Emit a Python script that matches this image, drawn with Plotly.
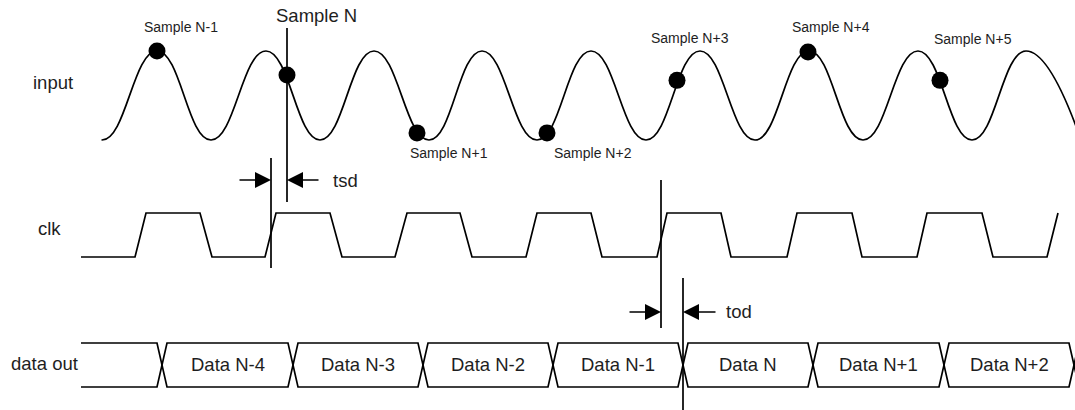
import plotly.graph_objects as go

# ------------------------------------------------------------------ data
# input waveform: times of successive peaks/troughs and their level (0 = low, 1 = high)
input_t = [47, 102, 157, 211, 266, 320, 374, 429, 482, 537, 591, 646, 700, 755, 809, 863, 918, 972, 1026, 1081]
input_level = [1, 0, 1, 0, 1, 0, 1, 0, 1, 0, 1, 0, 1, 0, 1, 0, 1, 0, 1, 0]
input_start = 102  # the waveform is drawn from here on

# samples taken on the input
sample_names = ["Sample N-1", "Sample N", "Sample N+1", "Sample N+2", "Sample N+3", "Sample N+4", "Sample N+5"]
sample_t = [157, 287, 417, 547, 677, 808, 940]
sample_level = [1.0, 0.73, 0.08, 0.08, 0.67, 0.99, 0.67]

# clock waveform corner points
clk_t = [81, 135, 146, 200, 212, 265, 276, 330, 342, 395, 407, 460, 472, 526, 537, 591, 602,
         657, 667, 721, 731, 787, 797, 852, 862, 917, 927, 982, 993, 1047, 1058]
clk_level = [0, 0, 1, 1, 0, 0, 1, 1, 0, 0, 1, 1, 0, 0, 1, 1, 0,
             0, 1, 1, 0, 0, 1, 1, 0, 0, 1, 1, 0, 0, 1]

# data out bus
bus_start = 81
bus_transitions = [162, 293, 423, 553, 683, 813, 944, 1074]
bus_labels = ["Data N-4", "Data N-3", "Data N-2", "Data N-1", "Data N", "Data N+1", "Data N+2"]

# timing markers
tsd_clk_edge, tsd_sample = 271, 287
tod_clk_edge, tod_data_edge = 661, 683

row_names = ["input", "clk", "data out"]

# ------------------------------------------------------------------ style / layout
W, H = 1075, 410
FONT = "Arial, 'Liberation Sans', sans-serif"
TXT = "#1e1e1e"
LW = 1.7
IN_HI, IN_LO = 51, 140
CLK_HI, CLK_LO = 213, 257
BUS_TOP, BUS_BOT = 343, 387
XW = 5  # half width of bus crossing


def lv(level, hi, lo):
    return [lo - v * (lo - hi) for v in level]


fig = go.Figure()

# input wave
fig.add_trace(go.Scatter(x=input_t, y=lv(input_level, IN_HI, IN_LO), mode="lines",
                         line=dict(color="black", width=LW, shape="spline", smoothing=1.3),
                         hoverinfo="skip"))
# sample dots
fig.add_trace(go.Scatter(x=sample_t, y=lv(sample_level, IN_HI, IN_LO), mode="markers",
                         marker=dict(color="black", size=17), hoverinfo="skip"))
# clock
fig.add_trace(go.Scatter(x=clk_t, y=lv(clk_level, CLK_HI, CLK_LO), mode="lines",
                         line=dict(color="black", width=LW), hoverinfo="skip"))

# bus: two crossing polylines
for start in (BUS_TOP, BUS_BOT):
    xs, ys = [bus_start], [start]
    cur = start
    for c in bus_transitions:
        other = BUS_BOT if cur == BUS_TOP else BUS_TOP
        xs += [c - XW, c + XW]
        ys += [cur, other]
        cur = other
    fig.add_trace(go.Scatter(x=xs, y=ys, mode="lines", line=dict(color="black", width=LW),
                             hoverinfo="skip"))

anns = []
# bus labels
for i, name in enumerate(bus_labels):
    xc = (bus_transitions[i] + bus_transitions[i + 1]) / 2
    anns.append(dict(x=xc, y=(BUS_TOP + BUS_BOT) / 2 - 1, text=name, showarrow=False,
                     font=dict(size=18.5, family=FONT, color=TXT)))

# sample labels
sample_label_pos = [(181, 27, 14), (316, 15, 18.5), (449, 153, 14), (593, 153, 14),
                    (690, 38, 14), (831, 27, 14), (973, 39, 14)]
for name, (lx, ly, fs) in zip(sample_names, sample_label_pos):
    anns.append(dict(x=lx, y=ly, text=name, showarrow=False,
                     font=dict(size=fs, family=FONT, color=TXT)))

# row labels
row_pos = [(53, 82), (49, 228), (44, 363)]
for name, (lx, ly) in zip(row_names, row_pos):
    anns.append(dict(x=lx, y=ly, text=name, showarrow=False,
                     font=dict(size=18.5, family=FONT, color=TXT)))


# timing arrows
def arrow(tip, tail, y):
    return dict(x=tip, y=y, ax=tail, ay=y, axref="x", ayref="y", xref="x", yref="y",
                text="", showarrow=True, arrowhead=2, arrowsize=2, arrowwidth=1.6,
                arrowcolor="black", standoff=0, startstandoff=0)


anns += [arrow(tsd_clk_edge, 238, 180), arrow(tsd_sample, 320, 180),
         arrow(tod_clk_edge, 628, 312), arrow(tod_data_edge, 717, 312)]
anns.append(dict(x=345, y=180, text="tsd", showarrow=False, font=dict(size=18.5, family=FONT, color=TXT)))
anns.append(dict(x=739, y=311, text="tod", showarrow=False, font=dict(size=18.5, family=FONT, color=TXT)))

shapes = [
    # mask the waveform before its start
    dict(type="rect", x0=0, x1=input_start - 0.5, y0=IN_HI - 10, y1=IN_LO + 10, xref="x", yref="y",
         fillcolor="white", line=dict(width=0), layer="above"),
]
for x0, y0, y1 in [(tsd_sample, 28, 202), (tsd_clk_edge, 158, 268),
                   (tod_clk_edge, 180, 328), (tod_data_edge, 278, 412)]:
    shapes.append(dict(type="line", x0=x0, x1=x0, y0=y0, y1=y1, xref="x", yref="y",
                       line=dict(color="black", width=LW)))

fig.update_layout(
    width=W, height=H, margin=dict(l=0, r=0, t=0, b=0),
    paper_bgcolor="white", plot_bgcolor="white", showlegend=False,
    xaxis=dict(range=[0, W], visible=False, fixedrange=True),
    yaxis=dict(range=[H, 0], visible=False, fixedrange=True),
    annotations=anns, shapes=shapes,
)

fig.write_html("out.html", config={"displayModeBar": False},
               post_script="document.body.style.margin='0px';document.body.style.overflow='hidden';")
